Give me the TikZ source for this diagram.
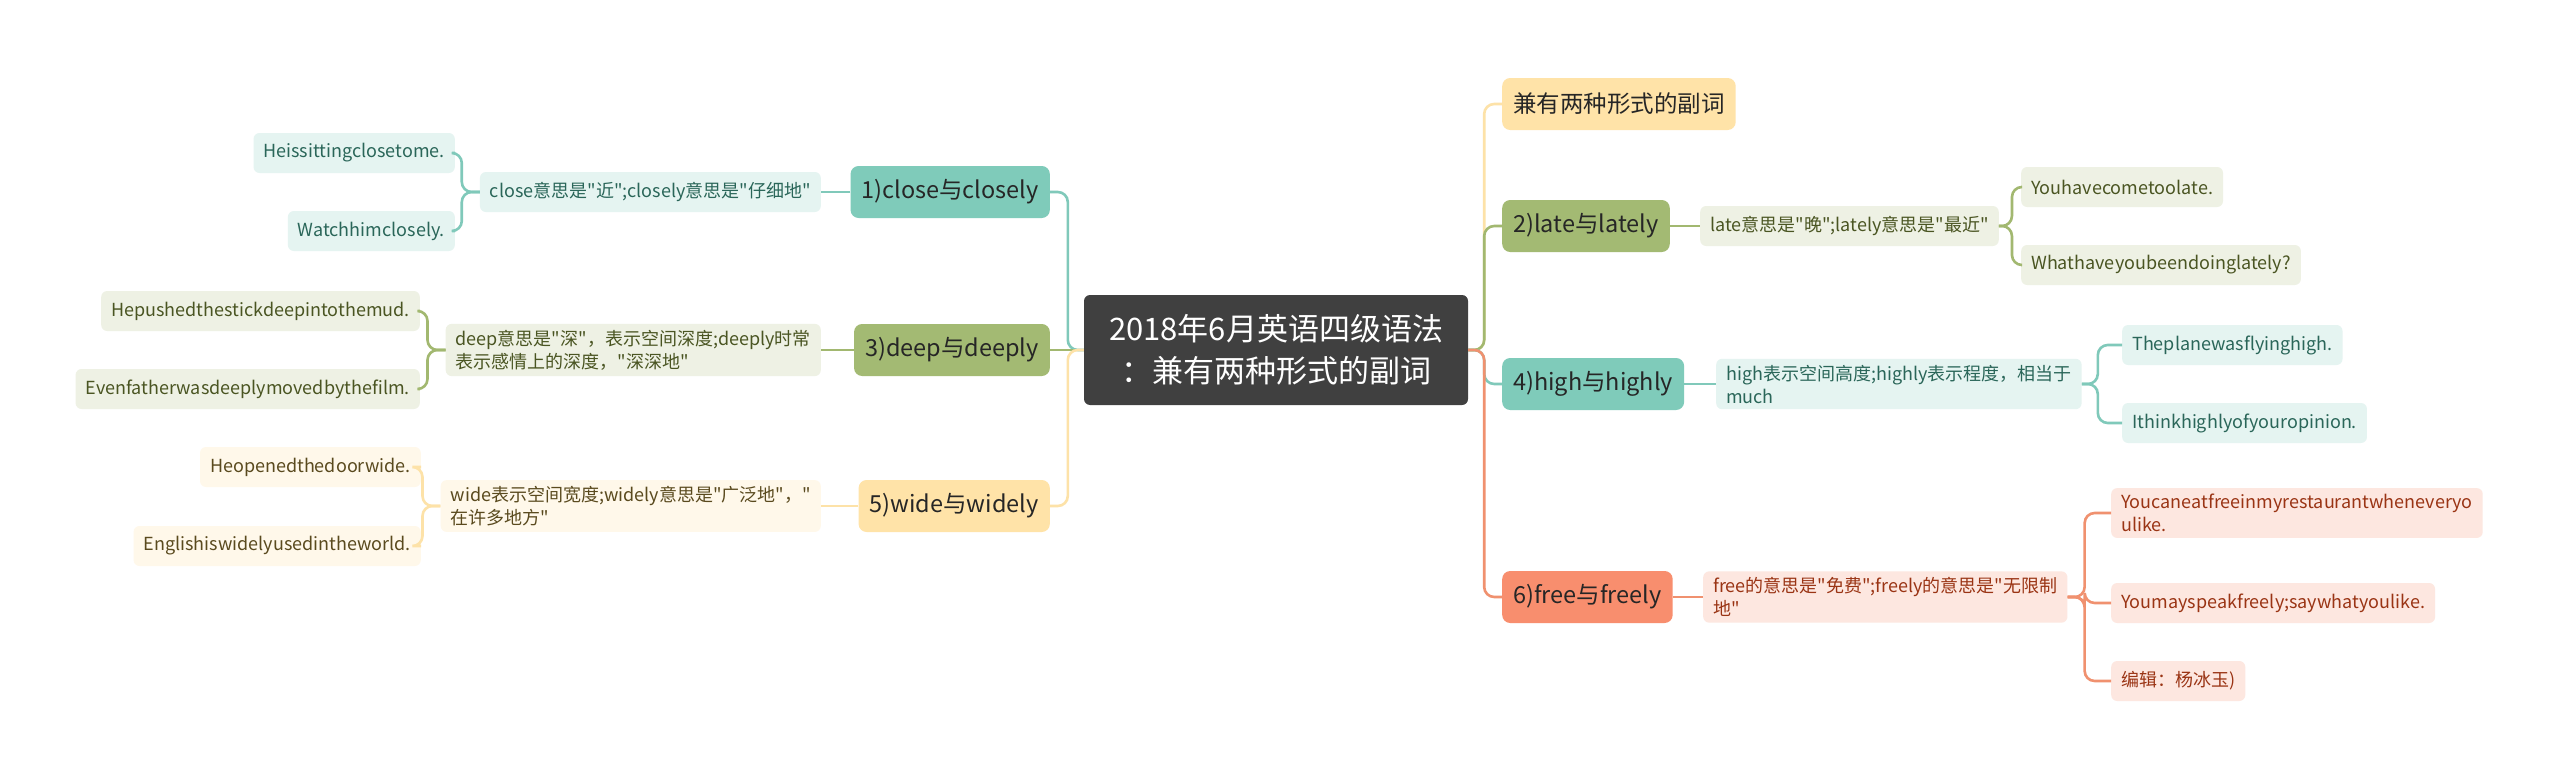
\documentclass[tikz,border=0pt]{standalone}
\usepackage{fontspec}
\setmainfont{Noto Sans CJK SC}[Ligatures=TeXOff]
\definecolor{tealA}{HTML}{7FCBBA}
\definecolor{tealB}{HTML}{E5F4F1}
\definecolor{tealT}{HTML}{2A6659}
\definecolor{tealL}{HTML}{80C9BA}
\definecolor{grnA}{HTML}{A3BA73}
\definecolor{grnB}{HTML}{EEF1E4}
\definecolor{grnT}{HTML}{4A5522}
\definecolor{grnL}{HTML}{A2B870}
\definecolor{yelA}{HTML}{FFE3A8}
\definecolor{yelB}{HTML}{FFF8EA}
\definecolor{yelT}{HTML}{5A4A1E}
\definecolor{yelL}{HTML}{FDE2A8}
\definecolor{orgA}{HTML}{F88E6E}
\definecolor{orgB}{HTML}{FDE7E0}
\definecolor{orgT}{HTML}{9A3414}
\definecolor{orgL}{HTML}{F0916F}
\definecolor{ctr}{HTML}{404040}
\definecolor{dark}{HTML}{262626}
\tikzset{
  lone/.style={rounded corners=8pt, inner xsep=11pt, inner ysep=0pt, minimum height=52pt, text=dark, font=\fontsize{23.5}{28}\selectfont},
  lsub/.style={rounded corners=6pt, inner xsep=10pt, inner ysep=6pt, minimum height=40pt, align=left, font=\fontsize{18}{23}\selectfont},
  tA/.style={fill=tealA}, tB/.style={fill=tealB, text=tealT}, tL/.style={draw=tealL},
  gA/.style={fill=grnA}, gB/.style={fill=grnB, text=grnT}, gL/.style={draw=grnL},
  yA/.style={fill=yelA}, yB/.style={fill=yelB, text=yelT}, yL/.style={draw=yelL},
  oA/.style={fill=orgA}, oB/.style={fill=orgB, text=orgT}, oL/.style={draw=orgL},
  conn/.style={line width=2.6pt, rounded corners=10pt},
}
\begin{document}
\begin{tikzpicture}[x=1pt,y=-1pt]
\fill[white] (0,0) rectangle (2560,779);
\useasboundingbox (0,0) rectangle (2560,779);

% central
\node[fill=ctr, text=white, rounded corners=6pt, minimum width=384pt, minimum height=110pt, align=center,
  font=\fontsize{31}{42}\selectfont] (c) at (1276,350) {2018年6月英语四级语法\\：兼有两种形式的副词};

% left level 1
\node[lone,tA,anchor=east] (n1) at (1050,192) {1)close与closely};
\node[lone,gA,anchor=east] (n3) at (1050,350) {3)deep与deeply};
\node[lone,yA,anchor=east] (n5) at (1050,506) {5)wide与widely};

% left level 2
\node[lsub,tB,anchor=east] (m1) at (821,192) {close意思是"近";closely意思是"仔细地"};
\node[lsub,gB,anchor=east] (m3) at (821,350) {deep意思是"深"，表示空间深度;deeply时常\\表示感情上的深度，"深深地"};
\node[lsub,yB,anchor=east] (m5) at (821,506) {wide表示空间宽度;widely意思是"广泛地"，"\\在许多地方"};

% left level 3
\node[lsub,tB,anchor=east] (a1) at (455,153) {Heissittingclosetome.};
\node[lsub,tB,anchor=east] (a2) at (455,231) {Watchhimclosely.};
\node[lsub,gB,anchor=east] (b1) at (420,311) {Hepushedthestickdeepintothemud.};
\node[lsub,gB,anchor=east] (b2) at (420,389) {Evenfatherwasdeeplymovedbythefilm.};
\node[lsub,yB,anchor=east] (d1) at (421,467) {Heopenedthedoorwide.};
\node[lsub,yB,anchor=east] (d2) at (421,546) {Englishiswidelyusedintheworld.};

% right level 1
\node[lone,yA,anchor=west] (n0) at (1502,104) {兼有两种形式的副词};
\node[lone,gA,anchor=west] (n2) at (1502,226) {2)late与lately};
\node[lone,tA,anchor=west] (n4) at (1502,384) {4)high与highly};
\node[lone,oA,anchor=west] (n6) at (1502,597) {6)free与freely};

% right level 2
\node[lsub,gB,anchor=west] (m2) at (1700,226) {late意思是"晚";lately意思是"最近"};
\node[lsub,tB,anchor=west] (m4) at (1716,384) {high表示空间高度;highly表示程度，相当于\\much};
\node[lsub,oB,anchor=west] (m6) at (1703,597) {free的意思是"免费";freely的意思是"无限制\\地"};

% right level 3
\node[lsub,gB,anchor=west] (e1) at (2021,187) {Youhavecometoolate.};
\node[lsub,gB,anchor=west] (e2) at (2021,265) {Whathaveyoubeendoinglately?};
\node[lsub,tB,anchor=west] (f1) at (2122,345) {Theplanewasflyinghigh.};
\node[lsub,tB,anchor=west] (f2) at (2122,423) {Ithinkhighlyofyouropinion.};
\node[lsub,oB,anchor=west] (g1) at (2111,513) {Youcaneatfreeinmyrestaurantwheneveryo\\ulike.};
\node[lsub,oB,anchor=west] (g2) at (2111,603) {Youmayspeakfreely;saywhatyoulike.};
\node[lsub,oB,anchor=west] (g3) at (2111,681) {编辑：杨冰玉)};

% central connectors
\draw[conn,tL] (c.west) -- ++(-16,0) |- (n1.east);
\draw[conn,gL] (c.west) -- (n3.east);
\draw[conn,yL] (c.west) -- ++(-16,0) |- (n5.east);
\draw[conn,yL] (c.east) -- ++(16,0) |- (n0.west);
\draw[conn,gL] (c.east) -- ++(16,0) |- (n2.west);
\draw[conn,tL] (c.east) -- ++(16,0) |- (n4.west);
\draw[conn,oL] (c.east) -- ++(16,0) |- (n6.west);

% level1 - level2
\draw[conn,tL] (n1.west) -- (m1.east);
\draw[conn,gL] (n3.west) -- (m3.east);
\draw[conn,yL] (n5.west) -- (m5.east);
\draw[conn,gL] (n2.east) -- (m2.west);
\draw[conn,tL] (n4.east) -- (m4.west);
\draw[conn,oL] (n6.east) -- (m6.west);

% level2 - level3
\draw[conn,tL] (m1.west) -- ++(-18,0) |- (a1.east);
\draw[conn,tL] (m1.west) -- ++(-18,0) |- (a2.east);
\draw[conn,gL] (m3.west) -- ++(-18,0) |- (b1.east);
\draw[conn,gL] (m3.west) -- ++(-18,0) |- (b2.east);
\draw[conn,yL] (m5.west) -- ++(-18,0) |- (d1.east);
\draw[conn,yL] (m5.west) -- ++(-18,0) |- (d2.east);
\draw[conn,gL] (m2.east) -- ++(13,0) |- (e1.west);
\draw[conn,gL] (m2.east) -- ++(13,0) |- (e2.west);
\draw[conn,tL] (m4.east) -- ++(16,0) |- (f1.west);
\draw[conn,tL] (m4.east) -- ++(16,0) |- (f2.west);
\draw[conn,oL] (m6.east) -- ++(17,0) |- (g1.west);
\draw[conn,oL] (m6.east) -- ++(17,0) |- (g2.west);
\draw[conn,oL] (m6.east) -- ++(17,0) |- (g3.west);
\end{tikzpicture}
\end{document}
